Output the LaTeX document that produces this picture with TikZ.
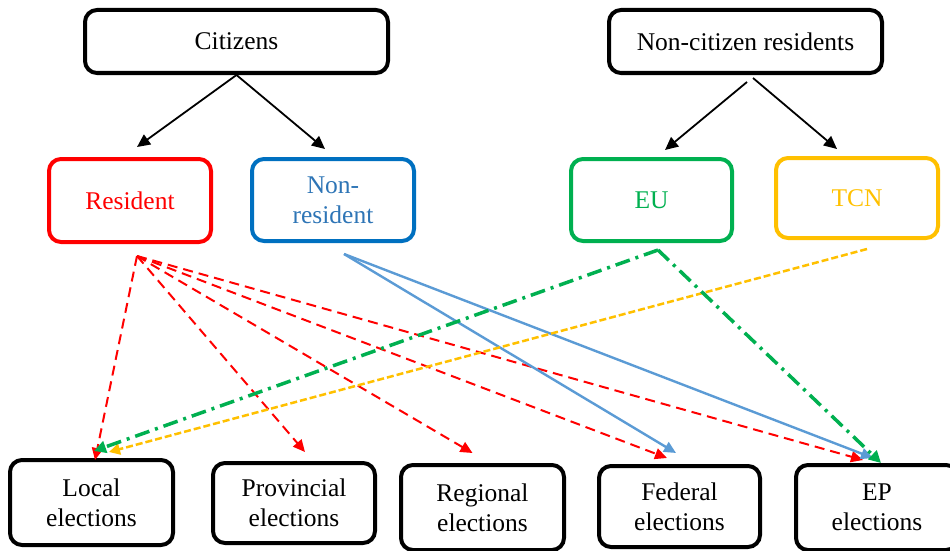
\documentclass[tikz,border=0pt]{standalone}
\usepackage{fontspec}
\setmainfont{Liberation Serif}
\usetikzlibrary{arrows.meta,calc}
\definecolor{cred}{HTML}{FF0000}
\definecolor{cblue}{HTML}{0070C0}
\definecolor{cbluetxt}{HTML}{2E75B6}
\definecolor{carrblue}{HTML}{5B9BD5}
\definecolor{cgreen}{HTML}{00B050}
\definecolor{cyellow}{HTML}{FFC000}
\tikzset{
  box/.style={draw, line width=4pt, rounded corners=12pt, align=center, inner sep=0pt,
    font=\fontsize{25.5}{30}\selectfont},
  blk/.style={-{Triangle[length=13pt,width=12pt]}, line width=1.8pt},
  redarr/.style={cred, -{Triangle[length=12pt,width=11pt]}, line width=2pt, dash pattern=on 10pt off 6pt},
  bluearr/.style={carrblue, -{Triangle[length=12pt,width=11pt]}, line width=2.4pt},
  greenarr/.style={cgreen, -{Triangle[length=12pt,width=12pt]}, line width=3.5pt, dash pattern=on 15pt off 6pt on 3pt off 6pt},
  yelarr/.style={cyellow, -{Triangle[length=11pt,width=11pt]}, line width=2.5pt, dash pattern=on 7pt off 3pt},
}
\begin{document}
\begin{tikzpicture}[x=1pt,y=-1pt]
\useasboundingbox (0,0) rectangle (950,551);
% top
\node[box, minimum width=303pt, minimum height=63pt] (cit) at (236.5,41.5) {Citizens};
\node[box, minimum width=273pt, minimum height=63pt] (nc) at (745.5,41.5) {Non-citizen residents};
% middle
\node[box, draw=cred, text=cred, minimum width=162pt, minimum height=83pt] (res) at (130,200.5) {Resident};
\node[box, draw=cblue, text=cbluetxt, minimum width=162pt, minimum height=82pt] (nres) at (333,200) {Non-\\resident};
\node[box, draw=cgreen, text=cgreen, minimum width=161pt, minimum height=82pt] (eu) at (651.5,200) {EU};
\node[box, draw=cyellow, text=cyellow, minimum width=162pt, minimum height=80pt] (tcn) at (857,198) {TCN};
% bottom
\node[box, minimum width=163pt, minimum height=85pt] (loc) at (91.5,502.5) {Local\\elections};
\node[box, minimum width=162pt, minimum height=80pt] (prov) at (294,503) {Provincial\\elections};
\node[box, minimum width=163pt, minimum height=85pt] (reg) at (482.5,507.5) {Regional\\elections};
\node[box, minimum width=161pt, minimum height=81pt] (fed) at (679.5,506.5) {Federal\\elections};
\node[box, minimum width=162pt, minimum height=85pt] (ep) at (877,507.5) {EP\\elections};
% origins
\coordinate (R) at ($(res.south)+(7,12)$);
\coordinate (B) at ($(nres.south)+(11,11)$);
\coordinate (G) at ($(eu.south)+(6.5,7)$);
\coordinate (Y) at ($(tcn.south)+(10,9)$);
% black arrows
\draw[blk] (cit.south) -- ($(res.north)+(7,-10)$);
\draw[blk] (cit.south) -- ($(nres.north)+(-8,-8)$);
\draw[blk] ($(nc.south)+(1.5,7)$) -- ($(eu.north)+(13.5,-7)$);
\draw[blk] ($(nc.south)+(7.5,3)$) -- ($(tcn.north)+(-20,-7)$);
% red dashed
\draw[redarr] (R) -- ($(loc.north)+(3.5,2)$);
\draw[redarr] (R) -- ($(prov.north)+(11,-9)$);
\draw[redarr] (R) -- ($(reg.north)+(-10,-10)$);
\draw[redarr] (R) -- ($(fed.north)+(-12.5,-6)$);
\draw[redarr] (R) -- ($(ep.north)+(-14,-3)$);
% blue
\draw[bluearr] (B) -- ($(fed.north)+(-3.5,-11)$);
\draw[bluearr] (B) -- ($(ep.north)+(-4,-5)$);
% yellow
\draw[yelarr] (Y) -- ($(loc.north)+(17.5,-6)$);
% green
\draw[greenarr] (G) -- ($(loc.north)+(2.5,-7)$);
\draw[greenarr] (G) -- ($(ep.north)+(4,0)$);
\end{tikzpicture}
\end{document}
